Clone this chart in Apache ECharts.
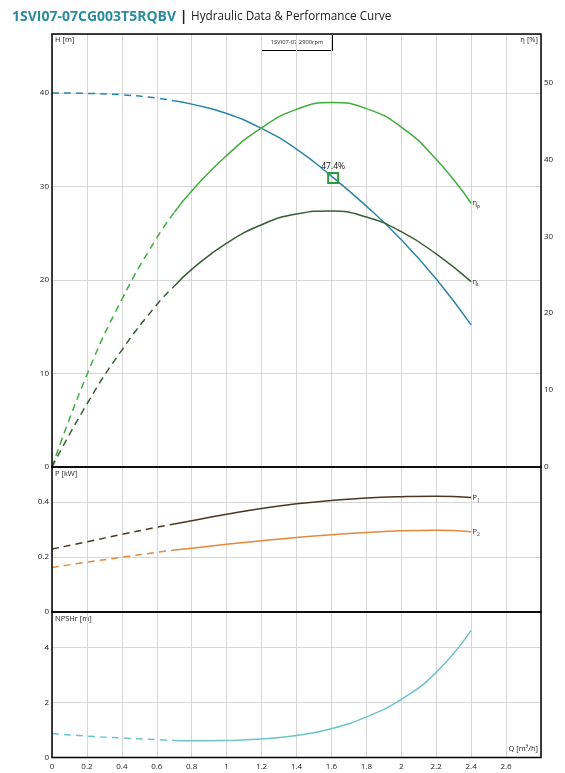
<!DOCTYPE html>
<html>
<head>
<meta charset="utf-8">
<script src="https://cdn.jsdelivr.net/npm/echarts@6/dist/echarts.min.js"></script>
<style>
html,body{margin:0;padding:0;background:#fff;}
#c{width:565px;height:773px;}
</style>
</head>
<body>
<div id="c"></div>
<script>
// ---- data ----
const flow    = [0, 0.2, 0.4, 0.6, 0.7, 0.8, 1.0, 1.2, 1.4, 1.6, 1.8, 2.0, 2.2, 2.4];
const head    = [40.0, 39.95, 39.8, 39.45, 39.15, 38.8, 37.8, 36.2, 34.0, 31.1, 27.9, 24.3, 20.1, 15.2];
const etaP    = [0, 12.0, 21.8, 29.8, 33.1, 35.9, 40.5, 44.1, 46.5, 47.4, 46.6, 44.2, 40.0, 34.3];
const etaT    = [0, 8.2, 15.2, 21.1, 23.5, 25.7, 29.1, 31.5, 32.9, 33.3, 32.5, 30.6, 27.7, 24.1];
const powerP1 = [0.229, 0.255, 0.282, 0.308, 0.320, 0.332, 0.355, 0.376, 0.393, 0.405, 0.414, 0.419, 0.421, 0.416];
const powerP2 = [0.162, 0.181, 0.199, 0.217, 0.225, 0.232, 0.246, 0.259, 0.271, 0.281, 0.289, 0.295, 0.297, 0.292];
const npshr   = [0.87, 0.78, 0.71, 0.65, 0.62, 0.61, 0.62, 0.67, 0.80, 1.05, 1.48, 2.12, 3.10, 4.63];
const solidFrom = 0.7;          // curves are dashed below this flow
const bepFlow = 1.61, bepHead = 30.9, bepEff = 47.4;
const xTicks = [0, 0.2, 0.4, 0.6, 0.8, 1, 1.2, 1.4, 1.6, 1.8, 2, 2.2, 2.4, 2.6];

// ---- build ----
const split = flow.indexOf(solidFrom);
function pairs(vals, a, b) { return flow.slice(a, b).map((q, i) => [q, vals[a + i]]); }
function dashPart(vals){ return pairs(vals, 0, split + 1); }
function solidPart(vals){ return pairs(vals, split, flow.length); }

const FONT = 'Open Sans';
const gridLine = { show: true, lineStyle: { color: '#d6d6d6', width: 1 } };
const lblStyle = { fontSize: 8, color: '#222', fontFamily: FONT };

function xAx(idx, showLabels) {
  return {
    type: 'value', gridIndex: idx, min: 0, max: 2.8, interval: 0.2,
    axisLine: { show: false }, axisTick: { show: false },
    splitLine: gridLine,
    axisLabel: Object.assign({ show: showLabels, margin: 5, showMaxLabel: false,
      formatter: v => (xTicks.some(t => Math.abs(t - v) < 1e-6) ? String(+v.toFixed(1)) : '') }, lblStyle)
  };
}
function yAx(idx, max, interval, pos, split) {
  return {
    type: 'value', gridIndex: idx, min: 0, max: max, interval: interval, position: pos,
    axisLine: { show: false }, axisTick: { show: false },
    splitLine: split ? gridLine : { show: false },
    axisLabel: Object.assign({ margin: 3, showMaxLabel: false,
      formatter: v => String(+v.toFixed(2)) }, lblStyle)
  };
}

const subRich = {
  m: { fontSize: 8, color: '#333', fontFamily: FONT, lineHeight: 11 },
  s: { fontSize: 5, color: '#333', fontFamily: FONT, lineHeight: 6, verticalAlign: 'bottom' }
};
function curve(name, vals, color, xi, yi, endText) {
  const base = { type: 'line', smooth: true, showSymbol: false, xAxisIndex: xi, yAxisIndex: yi,
                 silent: true, animation: false, z: 3 };
  const dashed = Object.assign({}, base, { name: name + ' (ext)', data: dashPart(vals),
      lineStyle: { color: color, width: 1.5, type: [7, 5] } });
  const solid = Object.assign({}, base, { name: name, data: solidPart(vals),
      lineStyle: { color: color, width: 1.5 } });
  if (endText) {
    solid.endLabel = { show: true, formatter: endText, distance: 1, rich: subRich };
  }
  return [dashed, solid];
}

const series = [].concat(
  curve('H', head, '#2d84a8', 0, 0, null),
  curve('ηp', etaP, '#3fae3a', 0, 1, '{m|η}{s|p}'),
  curve('ηt', etaT, '#355f35', 0, 1, '{m|η}{s|t}'),
  curve('P1', powerP1, '#4b3621', 1, 2, '{m|P}{s|1}'),
  curve('P2', powerP2, '#e4883c', 1, 2, '{m|P}{s|2}'),
  curve('NPSHr', npshr, '#6ec3cb', 2, 3, null),
  [{
    type: 'scatter', xAxisIndex: 0, yAxisIndex: 0, z: 4, animation: false, silent: true,
    data: [[bepFlow, bepHead]], symbol: 'rect', symbolSize: 10,
    itemStyle: { color: 'rgba(0,0,0,0)', borderColor: '#2a9a3a', borderWidth: 2, opacity: 1 },
    label: { show: true, position: 'top', distance: 1, formatter: bepEff.toFixed(1) + '%',
             fontSize: 8.5, color: '#111', fontFamily: FONT, opacity: 1 }
  }]
);

const chart = echarts.init(document.getElementById('c'), null, { renderer: 'canvas' });
const frame = { show: true, borderColor: '#000', borderWidth: 1.5, backgroundColor: 'rgba(0,0,0,0)', z: 6 };
chart.setOption({
  animation: false,
  backgroundColor: '#fff',
  title: {
    left: 7, top: 5,
    text: '{a|1SVI07-07CG003T5RQBV}{c| | }{b|Hydraulic Data & Performance Curve}',
    textStyle: { rich: {
      a: { fontSize: 14, fontWeight: 'bold', color: '#2a8c9c', fontFamily: FONT },
      c: { fontSize: 14, fontWeight: 'bold', color: '#222', fontFamily: FONT },
      b: { fontSize: 11.7, fontWeight: 'normal', color: '#222', fontFamily: FONT }
    } }
  },
  grid: [
    Object.assign({ left: 52, right: 24, top: 34, height: 433 }, frame),
    Object.assign({ left: 52, right: 24, top: 467, height: 145 }, frame),
    Object.assign({ left: 52, right: 24, top: 612, height: 145.5 }, frame)
  ],
  xAxis: [xAx(0, false), xAx(1, false), xAx(2, true)],
  yAxis: [
    yAx(0, 46.3, 10, 'left', true),
    yAx(0, 56.3, 10, 'right', false),
    yAx(1, 0.527, 0.2, 'left', true),
    yAx(2, 5.3, 2, 'left', true)
  ],
  series: series,
  graphic: [
    { type: 'text', left: 55, top: 36, style: { text: 'H [m]', fontSize: 7.5, fill: '#222', fontFamily: FONT } },
    { type: 'text', right: 27, top: 36, style: { text: 'η [%]', fontSize: 7.5, fill: '#222', fontFamily: FONT } },
    { type: 'text', left: 55, top: 470, style: { text: 'P [kW]', fontSize: 7.5, fill: '#222', fontFamily: FONT } },
    { type: 'text', left: 55, top: 615, style: { text: 'NPSHr [m]', fontSize: 7.5, fill: '#222', fontFamily: FONT } },
    { type: 'text', right: 27, top: 745, style: { text: 'Q [m³/h]', fontSize: 7.5, fill: '#222', fontFamily: FONT } },
    { type: 'group', left: 261, top: 34, children: [
      { type: 'rect', shape: { x: 0, y: 0, width: 71, height: 16 }, style: { fill: '#fff', stroke: '#000', lineWidth: 1 } },
      { type: 'text', x: 35.5, y: 8, style: { text: '1SVI07-07 2900rpm', fontSize: 5.8, fill: '#222', fontFamily: FONT, align: 'center', verticalAlign: 'middle' } }
    ] }
  ]
});
</script>
</body>
</html>
